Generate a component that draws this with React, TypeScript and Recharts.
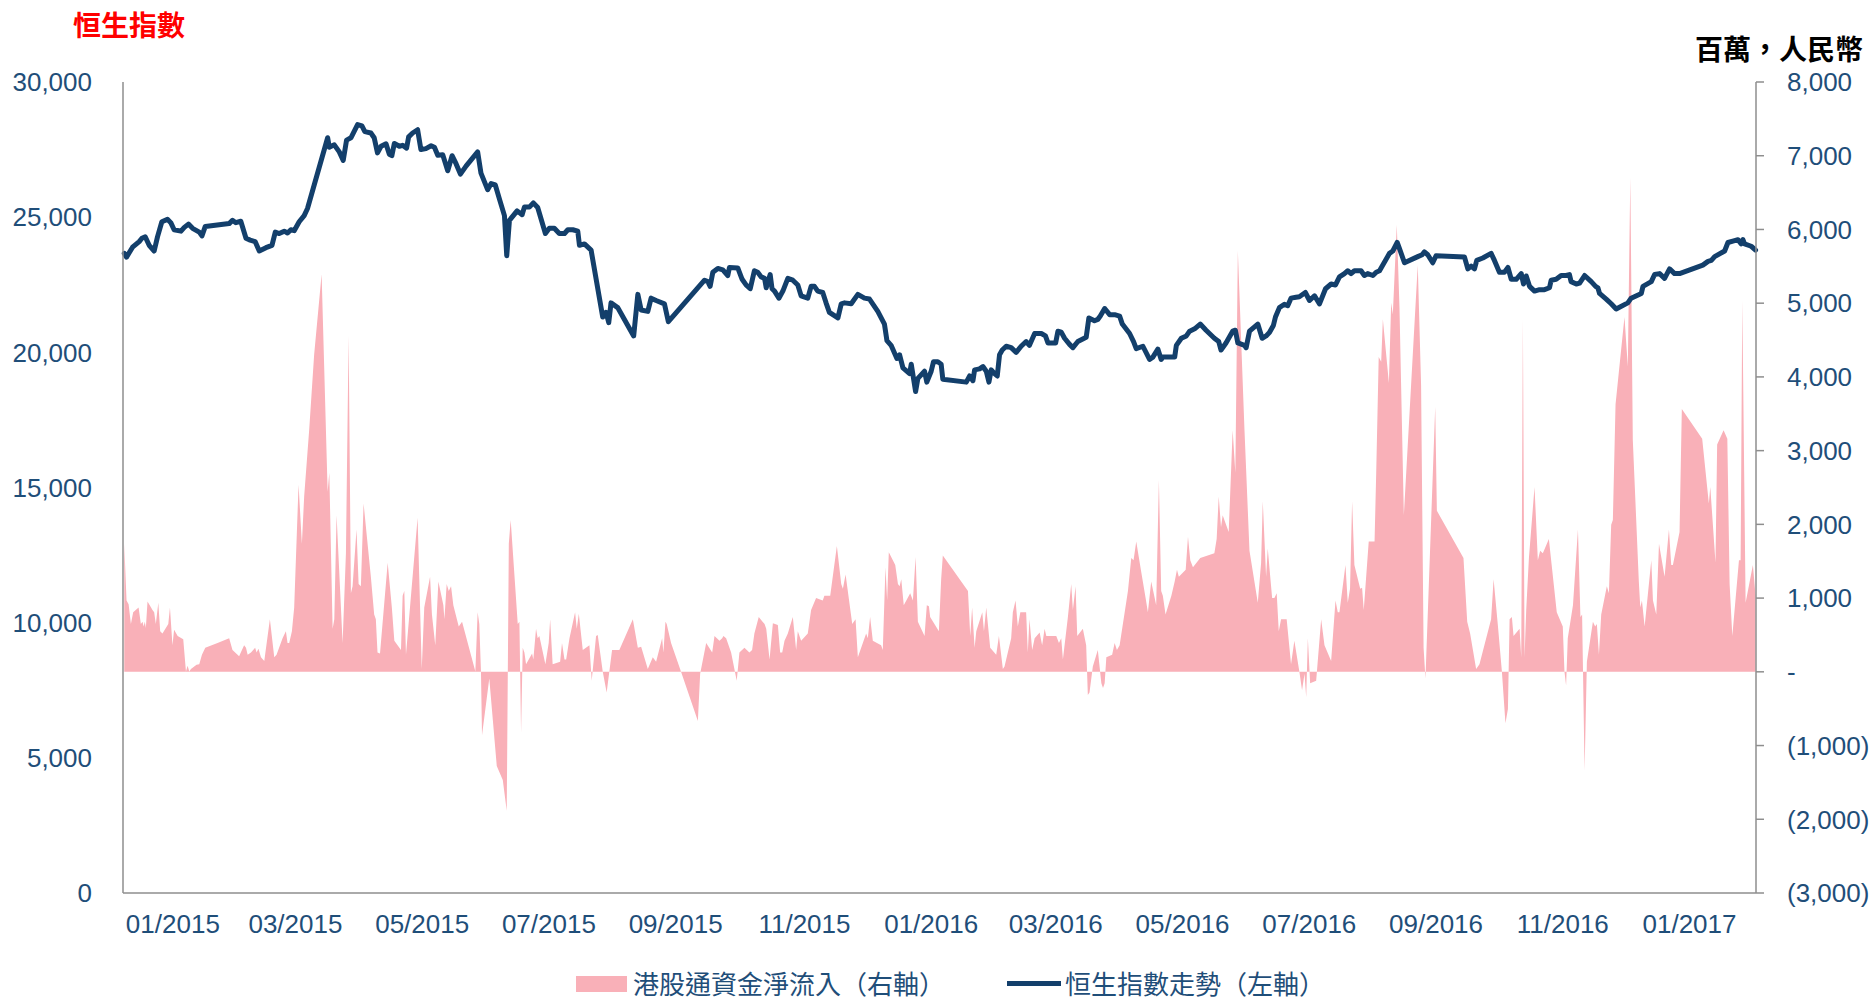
import React from "react";
import { ComposedChart, Area, Line, XAxis, YAxis } from "recharts";

// x = days since 2015-01-01

const HSI_DAY: number[] = [
  4.6, 5.7, 8.6, 11.8, 13.1, 14.7, 16.6, 19.0, 20.6, 22.7, 25.4, 27.0, 28.6, 31.9, 33.5, 35.5, 37.5, 40.7, 42.0, 43.6,
  55.1, 56.7, 58.3, 60.7, 63.2, 65.2, 67.6, 69.6, 72.8, 75.7, 77.3, 79.2, 81.6, 83.2, 84.8, 86.4, 88.8, 91.2, 92.8,
  102.5, 103.3, 105.7, 108.1, 110.0, 111.6, 113.7, 116.9, 119.0, 120.4, 123.3, 124.9, 126.5, 128.2, 130.6,
  132.2, 133.4, 134.6, 137.0, 138.6, 140.5, 141.5, 143.4, 145.8, 147.4, 149.8, 152.3, 153.9, 155.5, 157.9, 160.3,
  162.4, 164.3, 166.4, 169.1, 174.7, 176.3, 179.5, 181.2, 183.2, 185.2, 187.6, 188.7, 190.0, 193.7, 196.1, 197.2,
  199.6, 201.5, 203.6, 207.3, 209.2, 211.6, 214.0, 216.5, 218.1, 220.5, 222.9, 223.7, 226.1, 229.3, 234.9, 236.5,
  237.8, 238.9, 242.1, 249.8, 251.8, 253.4, 256.6, 258.2, 260.6, 264.6, 266.5,
  283.9, 285.5, 286.6, 287.9, 290.3, 292.7, 295.1, 295.9, 299.9, 302.0, 303.9, 305.9, 307.9, 309.5, 311.2, 312.8,
  313.6, 315.5, 316.4, 317.6, 319.7, 321.6, 324.0, 326.4, 328.8, 330.4, 333.6, 335.2, 336.8, 338.4, 340.8, 342.4,
  344.0, 348.1, 349.7, 351.3, 354.5, 357.7, 360.9, 363.3, 367.3, 370.5, 371.7, 373.7, 376.5, 377.8, 379.4, 382.6,
  383.4, 385.5, 386.6, 389.8, 390.9, 393.0, 394.1,
  396.2, 397.8, 398.6, 409.9, 411.5, 413.1, 413.9, 416.3, 417.9, 419.5, 420.8, 421.9, 423.5, 424.8, 425.9, 427.2,
  429.1, 431.5, 433.9, 436.3, 438.7, 440.3, 442.8, 446.0, 448.0, 449.2, 452.9, 454.0, 455.6, 457.2, 459.6, 461.2,
  463.6, 467.6, 468.9, 471.6, 473.2, 474.4, 476.5, 478.9, 481.3, 483.7, 485.0, 488.5, 490.4, 491.7, 494.9, 498.1,
  499.7, 502.1, 503.7, 504.5, 510.2, 511.0, 513.4, 515.8, 517.4, 519.8, 522.5,
  525.3, 529.3, 531.4, 532.5, 534.9, 538.1, 539.4, 540.6, 543.8, 544.6, 546.2, 550.2, 552.3, 554.2, 555.8, 557.7,
  558.7, 560.6, 563.0, 564.6, 566.2, 568.6, 570.2, 573.1, 575.1, 577.5, 579.9, 582.8, 585.5, 587.6, 589.5, 591.9,
  593.5, 595.1, 596.7, 599.9, 601.5, 603.1, 605.6, 607.2, 608.8, 613.6, 615.2, 617.3, 618.4, 620.8, 627.2, 629.3,
  630.4, 632.0, 634.4, 636.0, 649.7, 651.3, 652.9, 654.5,
  655.6, 658.5, 662.5, 664.1, 666.5, 668.9, 670.6, 672.2, 674.6, 677.0, 678.1, 679.4, 681.0, 683.4, 685.8, 688.2,
  690.6, 691.4, 693.8, 696.2, 698.6, 700.2, 701.0, 703.5, 705.1, 707.5, 710.7, 712.8, 713.9, 714.7, 717.9, 720.3,
  722.7, 728.3, 729.9, 734.8, 735.6, 739.6, 741.2, 743.6, 746.0, 748.4, 750.8, 753.2, 764.4, 766.9, 768.5, 770.1,
  774.9, 776.5, 779.7, 781.3, 782.9, 783.7, 784.5, 787.7, 789.8,
];

const HSI: number[] = [
  23662, 23523, 23889, 24098, 24221, 24273, 23959, 23749, 24273, 24831, 24919, 24796, 24535, 24482, 24622, 24744, 24587, 24447, 24308, 24657,
  24762, 24884, 24796, 24849, 24221, 24151, 24098, 23749, 23872, 23959, 24447, 24395, 24482, 24413, 24535, 24500, 24831, 25058, 25320,
  27937, 27588, 27676, 27414, 27100, 27850, 27937, 28426, 28374, 28164, 28112, 27937, 27379, 27623, 27711,
  27327, 27274, 27728, 27623, 27658, 27553, 27972, 28112, 28234, 27501, 27536, 27641, 27588, 27292, 27309, 26716,
  27274, 26978, 26594, 26890, 27414, 26629, 26018, 26245, 26192, 25669, 25058, 23575, 24884, 25233, 25093, 25372,
  25372, 25529, 25355, 24395, 24587, 24587, 24395, 24395, 24535, 24535, 24482, 23959, 24011, 23784, 21306, 21481,
  21097, 21830, 21655, 20608, 22144, 21568, 21516, 22004, 21917, 21795, 21132,
  22668, 22615, 22441, 22964, 23104, 23051, 22842, 23139, 23121, 22702, 22493, 22353, 23017, 22964, 22790, 22737,
  22388, 22877, 22353, 22266, 22004, 22266, 22737, 22668, 22493, 22092, 22004, 22441, 22441, 22266, 22214, 21830,
  21481, 21272, 21795, 21830, 21795, 22144, 22004, 21970, 21516, 21045, 20434, 20259, 19771, 19910, 19422, 19212,
  19561, 18549, 19038, 19300, 18898, 19300, 19649,
  19649, 19561, 19003, 18898, 19125, 18951, 19352, 19387, 19474, 19300, 18898, 19352, 19212, 19125, 19910, 20085,
  20225, 20172, 19998, 20225, 20399, 20259, 20696, 20696, 20608, 20347, 20347, 20783, 20748, 20521, 20294, 20172,
  20399, 20556, 21272, 21167, 21219, 21341, 21621, 21394, 21394, 21341, 21045, 20696, 20399, 20137, 20225, 19736,
  19823, 20120, 19736, 19823, 19823, 20259, 20521, 20608, 20783, 20870, 21045,
  20818, 20521, 20399, 20085, 20347, 20783, 20818, 20347, 20259, 20172, 20783, 21045, 20521, 20608, 20731, 20992,
  21306, 21655, 21778, 21725, 22004, 22039, 22057, 22214, 21917, 22092, 21795, 22353, 22528, 22493, 22790, 22912,
  23017, 22912, 23017, 23017, 22842, 22912, 22842, 22964, 23017, 23662, 23749, 24064, 23837, 23313, 23540, 23610,
  23715, 23610, 23313, 23575, 23523, 23086, 23191, 23086,
  23400, 23488, 23662, 23400, 22964, 22964, 23139, 22702, 22702, 22912, 22528, 22825, 22441, 22266, 22319, 22319,
  22388, 22668, 22702, 22842, 22842, 22877, 22615, 22528, 22563, 22842, 22615, 22441, 22388, 22179, 21970, 21795,
  21603, 21830, 22004, 22179, 22441, 22615, 22877, 22912, 22737, 23086, 22912, 22912, 23226, 23365, 23400, 23540,
  23749, 24064, 24133, 24168, 24011, 24168, 24011, 23924, 23784,
];

const FLOW_DAY: number[] = [
  4.6, 5.7, 6.7, 7.8, 8.9, 11.5, 12.6, 13.4, 13.9, 14.5, 15.0, 15.8, 18.2, 19.0, 19.8, 21.0, 21.9, 23.0, 25.8, 26.6,
  27.8, 28.6, 30.3, 33.0, 34.3, 35.1, 35.9, 36.7, 39.4, 40.7, 42.0, 43.6, 49.5, 55.1, 56.7, 59.9, 60.7, 62.3, 63.2,
  64.0, 65.6, 67.6, 68.3, 69.2, 70.4, 72.0, 74.7, 76.8, 77.9, 80.8, 82.4, 83.2, 84.0, 85.3, 86.4, 88.5, 90.1, 91.2,
  93.6, 96.0, 99.6, 102.5, 103.3, 104.9, 105.7, 106.8, 109.7, 111.3, 112.6, 113.7, 114.5, 116.4, 117.4, 118.5, 119.8,
  123.3, 124.9, 125.7, 126.5, 127.7, 131.4, 133.4, 134.6,
  137.8, 138.6, 139.4, 140.2, 145.8, 147.8, 149.0, 151.8, 152.7, 154.3, 155.8, 158.2, 158.7, 159.8, 160.8, 161.9,
  163.0, 165.6, 167.2, 173.6, 174.7, 175.5, 176.3, 176.8, 180.3, 183.9, 186.8, 188.7, 189.7, 190.6, 194.0, 194.8,
  195.6, 196.4, 197.2, 198.0, 200.9, 201.5, 202.8, 203.6, 204.4, 207.3, 208.9, 209.6, 210.8, 214.4, 215.3, 216.5,
  217.3, 218.9, 221.6, 222.4, 223.4, 225.3, 228.5, 229.6, 231.7, 232.5, 234.9, 236.8, 239.4, 242.9, 249.4, 251.8,
  253.4, 256.6, 259.0, 260.6, 263.5,
  264.1, 265.1, 265.7, 267.8, 272.6, 280.7, 281.8, 284.7, 287.6, 288.7, 291.1, 292.4, 293.0, 294.3, 296.7, 299.4,
  300.7, 303.1, 305.5, 306.8, 307.9, 310.0, 312.8, 313.6, 315.2, 316.8, 319.2, 320.3, 321.3, 322.4, 324.0, 326.4,
  328.0, 328.8, 330.4, 333.6, 335.2, 337.6, 340.8, 341.6, 344.4, 347.6, 349.7, 350.5, 351.8, 355.0, 356.6, 357.7,
  361.7, 362.5, 363.6, 364.9, 368.9, 369.7, 371.0, 371.8, 372.6, 375.7, 377.0, 377.8, 378.6, 379.8, 382.9, 384.2,
  385.5, 386.6, 389.8, 390.9, 391.9, 392.5,
  396.7, 397.8, 398.6, 410.7, 411.8, 412.7, 413.9, 414.7, 417.6, 418.4, 419.5, 421.4, 424.3, 425.6, 427.5, 428.3,
  431.5, 432.3, 433.6, 434.7, 435.9, 438.7, 439.5, 440.3, 441.6, 442.8, 445.2, 446.4, 447.6, 448.4, 453.2, 454.5,
  455.6, 456.4, 458.8, 460.4, 461.2, 462.5, 463.3, 466.0, 467.6, 468.4, 469.2, 470.8, 473.2, 474.9, 475.7, 476.5,
  477.3, 480.1, 481.3, 482.4, 483.7, 487.7, 489.3, 490.4, 491.7, 494.1, 496.2, 497.3, 498.9, 501.3, 502.6, 503.7,
  504.5, 505.8, 508.6, 510.2, 511.3, 512.2, 515.5, 516.6, 517.7, 519.0, 522.5,
  529.3, 530.4, 531.4, 532.5, 533.3, 536.2, 538.1, 539.4, 540.6, 543.8, 546.2, 550.2, 551.8, 552.6, 554.2, 555.0,
  557.1, 558.2, 559.3, 560.3, 561.4, 564.1, 566.2, 567.8, 570.2, 571.5, 572.7, 573.5, 574.3, 575.4, 578.3, 580.7,
  582.3, 585.5, 587.6, 588.7, 589.5, 592.4, 593.5, 594.6, 595.6, 596.7, 599.5, 600.4, 601.2, 603.6, 606.4, 607.2,
  608.4, 609.6, 610.4, 613.3, 614.4, 615.2, 617.1, 618.4, 620.5, 627.2, 628.8, 630.0, 630.9, 635.6, 636.4, 649.2,
  651.0, 652.4,
  655.3, 656.9, 662.5, 663.7, 665.7, 667.7, 669.4, 670.6, 671.4, 672.5, 673.3, 676.2, 677.0, 677.8, 678.6, 679.4,
  680.7, 683.4, 685.0, 686.1, 687.4, 690.3, 694.1, 697.0, 697.8, 698.6, 699.4, 701.9, 704.3, 705.5, 706.3, 707.5,
  708.6, 711.5, 712.6, 713.4, 714.4, 715.5, 718.2, 719.2, 720.3, 721.1, 722.4, 726.7, 728.3, 729.5, 730.7, 733.6,
  734.3, 735.1, 736.4, 739.6, 740.4, 742.0, 743.3, 746.0, 748.1, 749.2, 750.0, 753.2, 754.3, 764.1, 767.3, 768.0,
  770.5, 771.3, 774.4, 776.2, 777.3, 778.6, 781.8, 782.6, 783.4, 785.0, 788.5, 789.8,
];

const FLOW: number[] = [
  1737, 968, 917, 647, 808, 872, 647, 679, 615, 679, 596, 955, 840, 808, 647, 936, 551, 519, 647, 872,
  359, 570, 487, 442, 6, 83, 6, 38, 96, 103, 231, 327, 391, 455, 295, 212, 263, 359, 327,
  231, 263, 327, 263, 314, 199, 147, 712, 199, 231, 455, 551, 391, 391, 551, 872, 2538, 1737, 2378,
  3276, 4301, 5391, 2442, 2699, 583, 712, 2122, 391, 1609, 4558, 1064, 1160, 1929, 1192, 1160, 2282,
  1288, 776, 712, 263, 250, 1481, 872, 423,
  295, 1032, 1096, 231, 2090, 38, 872, 1288, 776, 359, 1224, 904, 712, 1192, 1096, 1160,
  904, 615, 679, 6, 808, 647, 0, -859, -90, -1276, -1468, -1885, 1737, 2058, 647, 679,
  -827, 327, 263, 103, 250, 167, 583, 455, 487, 103, 391, 712, 103, 135, 391, 167,
  167, 455, 808, 583, 788, 295, 359, -122, 487, 500, 6, -282, 295, 295, 712, 327,
  340, 38, 199, 135, 455,
  263, 679, 647, 391, 0, -667, -26, 391, 263, 487, 423, 455, 487, 455, 263, -122,
  263, 327, 263, 295, 519, 744, 647, 583, 167, 660, 635, 263, 263, 423, 519, 744,
  295, 551, 423, 519, 840, 1000, 968, 1032, 1032, 1705, 1192, 1128, 1320, 647, 712, 199,
  519, 455, 744, 423, 359, 295, 1417, 968, 1622, 1449, 1192, 1160, 1256, 904, 1064, 968,
  1558, 679, 487, 904, 891, 744,
  551, 1256, 1577, 1096, 487, 872, 327, 551, 808, 551, 872, 327, 231, 487, 38, 71,
  455, 808, 968, 615, 808, 808, 263, 712, 295, 455, 532, 359, 583, 487, 487, 391,
  455, 167, 744, 1192, 840, 1160, 487, 583, 359, -314, -282, 71, 295, -154, -218, -154,
  199, 231, 391, 295, 359, 1096, 1545, 1513, 1769, 1353, 1000, 808, 1224, 904, 2602, 1096,
  1032, 776, 1032, 1224, 1385, 1288, 1385, 1833, 1513, 1417, 1545,
  1609, 1801, 2378, 1961, 2122, 1897, 3276, 2699, 5711, 3276, 1641, 936, 1481, 2314, 1288, 1673,
  1000, 1000, 1064, 551, 712, 712, 103, 423, 6, -250, -26, -346, 455, -154, -122, 712,
  359, 147, 968, 808, 808, 1449, 936, 1128, 2314, 1449, 1128, 1141, 840, 1769, 1769, 2699,
  4269, 4205, 4782, 3917, 5006, 4846, 6064, 4942, 2122, 5519, 3884, 327, -90, 3596, 2186, 1545,
  679, 519,
  38, 103, 712, 1256, 647, 0, -699, -506, 712, 744, 487, 583, 199, 4782, 199, 840,
  1545, 2506, 1513, 1641, 1609, 1801, 808, 615, 6, -186, 455, 904, 1929, 744, 776, -1340,
  135, 679, 615, 647, 231, 776, 1160, 1064, 1994, 2058, 3628, 4814, 4141, 6705, 3147, 1224,
  872, 968, 615, 1513, 968, 776, 1737, 1288, 1929, 1449, 1449, 1897, 3564, 3160, 2282, 2506,
  1481, 3083, 3276, 3160, 1192, 487, 1513, 1513, 5038, 936, 1449, 1032,
];

const TICK_DAY: number[] = [28, 87, 148, 209, 270, 332, 393, 453, 514, 575, 636, 697, 758];
const TICK_LABEL: string[] = [
  "01/2015", "03/2015", "05/2015", "07/2015", "09/2015", "11/2015",
  "01/2016", "03/2016", "05/2016", "07/2016", "09/2016", "11/2016", "01/2017",
];
const LEFT_TICKS: number[] = [0, 5000, 10000, 15000, 20000, 25000, 30000];
const RIGHT_TICKS: number[] = [-3000, -2000, -1000, 0, 1000, 2000, 3000, 4000, 5000, 6000, 7000, 8000];

const PINK = "#F9B0B8";
const NAVY = "#133F6B";
const LABEL = "#1F4E79";
const AXIS = "#8E8E8E";
const SANS = "'Liberation Sans', Arial, sans-serif";
const CJK = "'Noto Sans CJK TC', 'Noto Sans CJK SC', sans-serif";

type Row = { day: number; hsi?: number; flow?: number };

const rows: Row[] = [
  ...HSI_DAY.map((d, i) => ({ day: d, hsi: HSI[i] })),
  ...FLOW_DAY.map((d, i) => ({ day: d, flow: FLOW[i] })),
].sort((a, b) => a.day - b.day);

const fmtLeft = (v: number) => v.toLocaleString("en-US");
const fmtRight = (v: number) => {
  if (v === 0) return "-";
  if (v < 0) return `(${Math.abs(v).toLocaleString("en-US")})`;
  return v.toLocaleString("en-US");
};
const fmtDate = (v: number) => TICK_LABEL[TICK_DAY.indexOf(v)] ?? "";

const tickStyle = { fill: LABEL, fontSize: 26, fontFamily: SANS };

const App: React.FC = () => {
  return (
    <div
      lang="zh-Hant"
      style={{ position: "absolute", left: 0, top: 0, width: 1873, height: 998, background: "#fff" }}
    >
      {/* 標題 */}
      <div
        style={{
          position: "absolute", left: 73, top: 10, fontSize: 28, lineHeight: "28px",
          fontWeight: 700, color: "#FF0000", fontFamily: CJK, whiteSpace: "nowrap",
        }}
      >
        恒生指數
      </div>
      <div
        style={{
          position: "absolute", right: 10, top: 35, fontSize: 28, lineHeight: "26px",
          fontWeight: 700, color: "#000", fontFamily: CJK, whiteSpace: "nowrap",
        }}
      >
        百萬，人民幣
      </div>

      <ComposedChart width={1873} height={998} data={rows} margin={{ top: 82, right: 0, bottom: 0, left: 0 }}>
        <XAxis
          type="number"
          dataKey="day"
          domain={[4, 790]}
          ticks={TICK_DAY}
          interval={0}
          tickFormatter={fmtDate}
          tickLine={false}
          tickSize={0}
          tickMargin={22}
          height={105}
          axisLine={{ stroke: AXIS, strokeWidth: 1.5 }}
          tick={tickStyle}
        />
        <YAxis
          yAxisId="left"
          domain={[0, 30000]}
          ticks={LEFT_TICKS}
          interval={0}
          tickFormatter={fmtLeft}
          width={123}
          tickLine={false}
          tickSize={0}
          tickMargin={31}
          axisLine={{ stroke: AXIS, strokeWidth: 1.5 }}
          tick={tickStyle}
        />
        <YAxis
          yAxisId="right"
          orientation="right"
          domain={[-3000, 8000]}
          ticks={RIGHT_TICKS}
          interval={0}
          tickFormatter={fmtRight}
          width={117}
          tickSize={8}
          tickMargin={23}
          tickLine={{ stroke: AXIS, strokeWidth: 1.5 }}
          axisLine={{ stroke: AXIS, strokeWidth: 1.5 }}
          tick={tickStyle}
        />
        <Area
          yAxisId="right"
          type="linear"
          dataKey="flow"
          fill={PINK}
          fillOpacity={1}
          stroke="none"
          connectNulls
          isAnimationActive={false}
        />
        <Line
          yAxisId="left"
          type="linear"
          dataKey="hsi"
          stroke={NAVY}
          strokeWidth={5}
          strokeLinejoin="round"
          strokeLinecap="round"
          dot={false}
          activeDot={false}
          connectNulls
          isAnimationActive={false}
        />
      </ComposedChart>

      {/* 圖例 */}
      <div style={{ position: "absolute", left: 576, top: 976, width: 51, height: 16, background: PINK }} />
      <div
        style={{
          position: "absolute", left: 633, top: 969, fontSize: 26, lineHeight: "28px",
          color: LABEL, fontFamily: CJK, whiteSpace: "nowrap",
        }}
      >
        港股通資金淨流入（右軸）
      </div>
      <div style={{ position: "absolute", left: 1007, top: 981, width: 54, height: 5, background: NAVY }} />
      <div
        style={{
          position: "absolute", left: 1065, top: 969, fontSize: 26, lineHeight: "28px",
          color: LABEL, fontFamily: CJK, whiteSpace: "nowrap",
        }}
      >
        恒生指數走勢（左軸）
      </div>
    </div>
  );
};

export default App;
